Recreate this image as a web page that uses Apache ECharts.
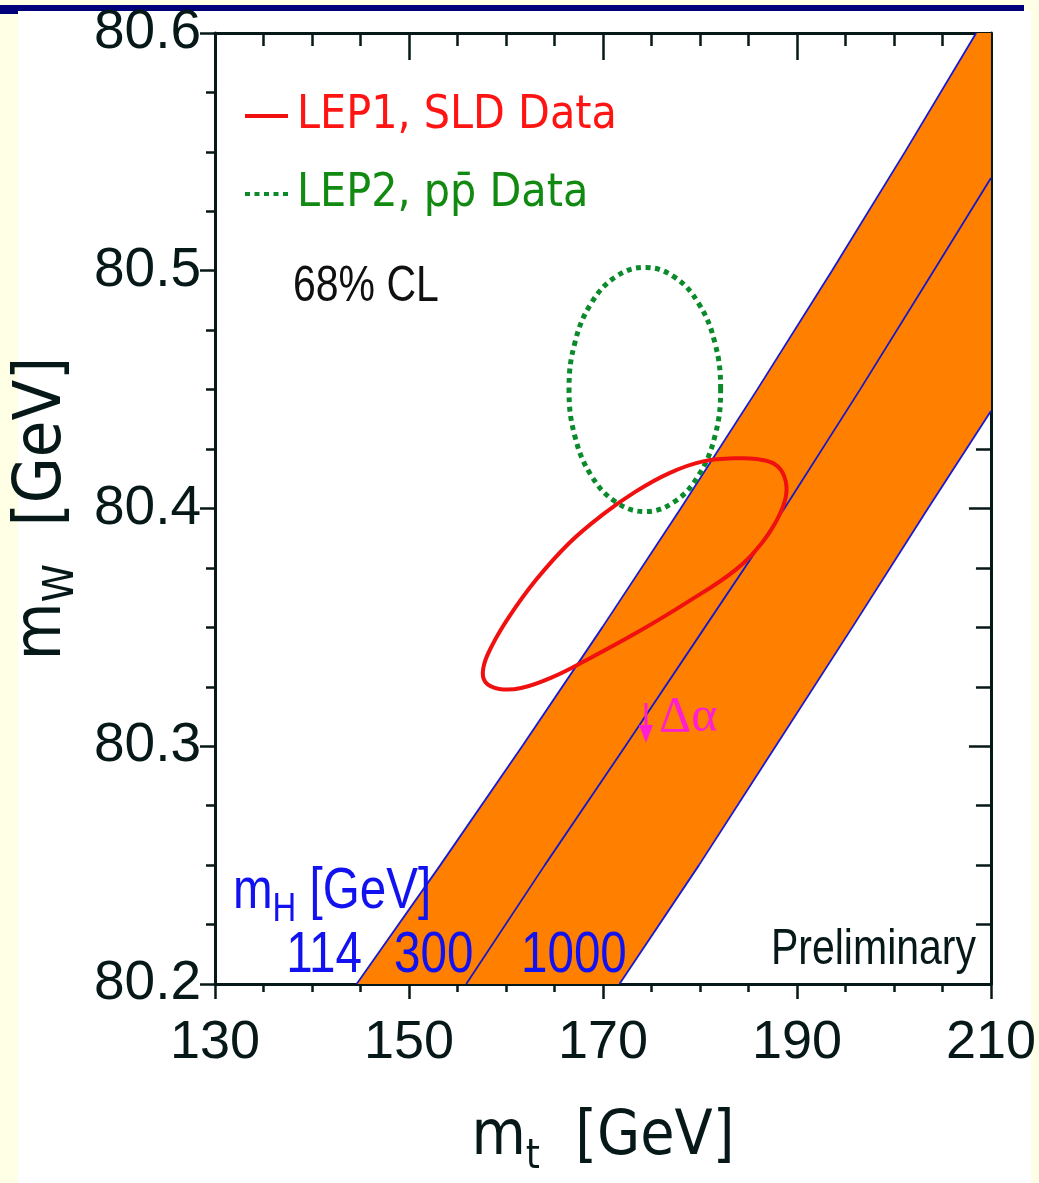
<!DOCTYPE html>
<html>
<head>
<meta charset="utf-8">
<script src="https://cdn.jsdelivr.net/npm/echarts@6/dist/echarts.min.js"></script>
<style>
html,body{margin:0;padding:0;background:#FFFFE6;}
#c{width:1039px;height:1183px;}
</style>
</head>
<body>
<div id="c"></div>
<script>
// ---- data (m_t [GeV], m_W [GeV]) ----
const xTickValues = [130, 150, 170, 190, 210];
const yTickValues = [80.2, 80.3, 80.4, 80.5, 80.6];

// SM bands for m_H = 114, 300, 1000 GeV
const mH114  = [[144.6,80.20],[153.23,80.25],[161.67,80.30],[169.93,80.35],[178.01,80.40],[185.90,80.45],[193.61,80.50],[201.14,80.55],[208.48,80.60]];
const mH300  = [[155.9,80.20],[164.0,80.25],[172.3,80.30],[180.5,80.35],[188.7,80.40],[196.5,80.45],[204.1,80.50],[210.0,80.539]];
const mH1000 = [[171.7,80.20],[179.9,80.25],[187.8,80.30],[195.7,80.35],[203.5,80.40],[210.0,80.441]];

// 68% CL contours (closed curves, points read around the outline)
const lep1Contour = [
  [183.64,80.4211],[180.21,80.4197],[176.79,80.4148],[173.36,80.4071],[169.93,80.3973],[166.50,80.3854],
  [163.08,80.3699],[160.33,80.3545],[158.48,80.3417],[157.66,80.3329],[157.87,80.3270],[159.31,80.3241],
  [161.57,80.3245],[164.79,80.3291],[168.22,80.3361],[173.36,80.3475],[178.50,80.3601],[183.64,80.3741],
  [186.38,80.3855],[187.99,80.3956],[188.87,80.4053],[188.71,80.4133],[187.69,80.4187],[185.84,80.4208]
];
const lep2Contour = [
  [182.13,80.4501],[181.54,80.4697],[179.84,80.4864],[177.31,80.4975],[174.32,80.5014],[171.33,80.4975],
  [168.80,80.4864],[167.10,80.4697],[166.50,80.4501],[167.10,80.4304],[168.80,80.4138],[171.33,80.4027],
  [174.32,80.3987],[177.31,80.4027],[179.84,80.4138],[181.54,80.4304]
];

const xMin = 130, xMax = 210, yMin = 80.2, yMax = 80.6;

// ---- chart ----
const FONT = "'Liberation Sans',Arial,sans-serif";
const FONT_C = "'Noto Sans Condensed','Liberation Sans Narrow','DejaVu Sans Condensed','Liberation Sans',Arial,sans-serif";
const DARK = '#061818';
const RED = '#F01010';
const GREEN = '#0B8A2C';
const BLUE_T = '#1212F0';
const MAGENTA = '#FF1ED2';
const chart = echarts.init(document.getElementById('c'), null, {renderer: 'canvas'});

const bandPolygon = mH114.concat([[xMax, yMax]], mH1000.slice().reverse());

function nameRich(size) {
  return {
    m: {fontSize: size, lineHeight: 80, verticalAlign: 'middle', color: DARK, fontFamily: FONT_C},
    s: {fontSize: Math.round(size * 0.65), lineHeight: 80, verticalAlign: 'bottom', color: DARK, fontFamily: FONT_C}
  };
}

function axisBase(extra) {
  return Object.assign({
    type: 'value',
    splitLine: {show: false},
    axisLine: {show: true, lineStyle: {color: DARK, width: 3}},
  }, extra);
}

function contourSeries(name, pts, lineStyle, z) {
  return {
    type: 'custom', name: name, silent: true, z: z,
    xAxisIndex: 0, yAxisIndex: 0,
    itemStyle: {color: lineStyle.stroke},
    data: [pts[0]],
    renderItem: function (params, api) {
      return {
        type: 'polygon',
        shape: {points: pts.map(p => api.coord(p)), smooth: 0.4},
        style: Object.assign({fill: 'none'}, lineStyle)
      };
    }
  };
}

function label(x, y, text, size, color, align, extra) {
  return Object.assign({
    type: 'text', z: 10, silent: true, x: x, y: y, scaleX: 0.82,
    style: {x: 0, y: 0, text: text, fontSize: size, fontFamily: FONT, fill: color, align: align, verticalAlign: 'middle'}
  }, extra || {});
}

const option = {
  animation: false,
  backgroundColor: '#FFFFE6',
  grid: {left: 215, right: 46, top: 33, bottom: 199, containLabel: false},
  xAxis: [
    axisBase({
      position: 'bottom', min: xMin, max: xMax, interval: 20,
      axisTick: {show: true, inside: false, length: 15, lineStyle: {color: DARK, width: 2.5}},
      minorTick: {show: true, splitNumber: 4, length: 8, lineStyle: {color: DARK, width: 2.5}},
      axisLabel: {show: true, fontSize: 54, color: DARK, fontFamily: FONT, margin: 32},
      name: '{m|m}{s|t}{m|  [GeV]}', nameLocation: 'middle', nameGap: 114,
      nameTextStyle: {rich: nameRich(62)}
    }),
    axisBase({
      position: 'top', min: xMin, max: xMax, interval: 20,
      axisTick: {show: true, inside: true, length: 27, lineStyle: {color: DARK, width: 2.5}},
      minorTick: {show: true, splitNumber: 4, length: 13, lineStyle: {color: DARK, width: 2.5}},
      axisLabel: {show: false}
    })
  ],
  yAxis: [
    axisBase({
      position: 'left', min: yMin, max: yMax, interval: 0.1,
      axisTick: {show: true, inside: false, length: 15, lineStyle: {color: DARK, width: 2.5}},
      minorTick: {show: true, splitNumber: 4, length: 9, lineStyle: {color: DARK, width: 2.5}},
      axisLabel: {show: true, fontSize: 55, color: DARK, fontFamily: FONT, margin: 14,
                  formatter: v => v.toFixed(1)},
      name: '{m|m}{s|W}{m|  [GeV]}', nameLocation: 'middle', nameGap: 128,
      nameTextStyle: {rich: nameRich(66)}
    }),
    axisBase({
      position: 'right', min: yMin, max: yMax, interval: 0.1,
      axisTick: {show: true, inside: true, length: 22, lineStyle: {color: DARK, width: 2.5}},
      minorTick: {show: true, splitNumber: 4, length: 15, lineStyle: {color: DARK, width: 2.5}},
      axisLabel: {show: false}
    })
  ],
  legend: {
    show: true, orient: 'vertical', left: 240, top: 85,
    itemWidth: 43, itemHeight: 4, itemGap: 26, selectedMode: false,
    textStyle: {fontSize: 46, fontFamily: FONT_C, lineHeight: 52, padding: [0, 0, 0, 4]},
    data: [
      {name: 'LEP1, SLD Data', icon: 'path://M0,0H43V4H0Z', textStyle: {color: '#FF1414'}},
      {name: 'LEP2, p\u0070\u0304 Data',
       icon: 'path://M0,0h5v4h-5zM9.5,0h5v4h-5zM19,0h5v4h-5zM28.5,0h5v4h-5zM38,0h5v4h-5z',
       textStyle: {color: '#128A12'}}
    ]
  },
  series: [
    {
      type: 'custom', name: 'band', silent: true, z: 1,
      xAxisIndex: 0, yAxisIndex: 0,
      data: [[170, 80.4]],
      renderItem: function (params, api) {
        const pts = bandPolygon.map(p => api.coord(p));
        return {type: 'polygon', shape: {points: pts}, style: {fill: '#FF8000'}};
      }
    },
    {type: 'line', name: 'mH114', data: mH114, symbol: 'none', silent: true, z: 3,
     lineStyle: {color: '#1818D8', width: 1.8}},
    {type: 'line', name: 'mH300', data: mH300, symbol: 'none', silent: true, z: 3,
     lineStyle: {color: '#1818C8', width: 1.8}},
    {type: 'line', name: 'mH1000', data: mH1000, symbol: 'none', silent: true, z: 3,
     lineStyle: {color: '#1818D8', width: 1.8}},
    contourSeries('LEP1, SLD Data', lep1Contour, {stroke: RED, lineWidth: 4}, 5),
    contourSeries('LEP2, p\u0070\u0304 Data', lep2Contour, {stroke: GREEN, lineWidth: 5, lineDash: [5, 4.5], lineCap: 'butt'}, 4)
  ],
  graphic: [
    // page decorations
    {type: 'rect', z: -100, silent: true, shape: {x: 18, y: 11, width: 1013, height: 1172}, style: {fill: '#FFFFFF'}},
    {type: 'rect', z: -99, silent: true, shape: {x: 0, y: 5, width: 1024, height: 6}, style: {fill: '#00007A'}},
    {type: 'rect', z: -99, silent: true, shape: {x: 0, y: 11, width: 18, height: 3}, style: {fill: '#00007A'}},
    // annotations
    label(293, 287, '68% CL', 50, '#101010', 'left'),
    {type: 'text', z: 10, silent: true, x: 233, y: 892, scaleX: 0.82,
     style: {x: 0, y: 0, text: '{m|m}{s|H}{m| [GeV]}', align: 'left', verticalAlign: 'middle',
      rich: {m: {fontSize: 58, lineHeight: 76, verticalAlign: 'middle', fill: BLUE_T, fontFamily: FONT},
             s: {fontSize: 40, lineHeight: 76, verticalAlign: 'bottom', fill: BLUE_T, fontFamily: FONT}}}},
    label(362, 956, '114', 58, BLUE_T, 'right'),
    label(394, 956, '300', 58, BLUE_T, 'left'),
    label(521, 956, '1000', 58, BLUE_T, 'left'),
    label(976, 950, 'Preliminary', 50, DARK, 'right'),
    {type: 'text', z: 10, silent: true, x: 659, y: 718,
     style: {x: 0, y: 0, text: '\u0394\u03b1', fontSize: 50, fontFamily: "'Liberation Serif','DejaVu Serif',serif", fill: MAGENTA, align: 'left', verticalAlign: 'middle'}},
    {type: 'line', z: 10, silent: true, shape: {x1: 646, y1: 703, x2: 646, y2: 729}, style: {stroke: MAGENTA, lineWidth: 3}},
    {type: 'polygon', z: 10, silent: true, shape: {points: [[639, 725], [653, 725], [646, 743]]}, style: {fill: MAGENTA}}
  ]
};
chart.setOption(option);
</script>
</body>
</html>
